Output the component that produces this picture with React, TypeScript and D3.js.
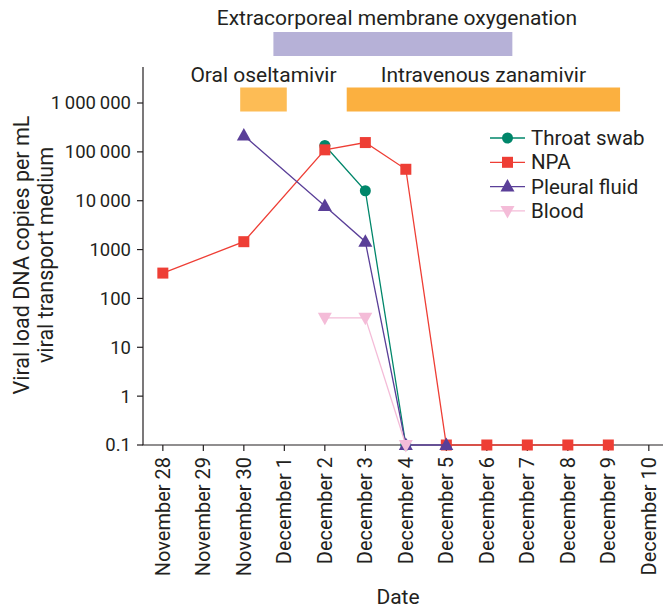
import React from "react";
import * as d3 from "d3";

const dates = [
  "November 28", "November 29", "November 30", "December 1", "December 2",
  "December 3", "December 4", "December 5", "December 6", "December 7",
  "December 8", "December 9", "December 10",
];

const yTickValues = [0.1, 1, 10, 100, 1000, 10000, 100000, 1000000];
const yTickLabels = ["0.1", "1", "10", "100", "1000", "10\u2009000", "100\u2009000", "1\u2009000\u2009000"];

// values indexed by day (0 = November 28); null = no sample
const throatSwab = [null, null, null, null, 135000, 16000, 0.1];
const npa = [330, null, 1450, null, 110000, 155000, 44000, 0.1, 0.1, 0.1, 0.1, 0.1];
const pleuralFluid = [null, null, 215000, null, 7800, 1450, 0.1, 0.1];
const blood = [null, null, null, null, 40, 40, 0.1];

const seriesNames = ["Throat swab", "NPA", "Pleural fluid", "Blood"];
const seriesColors = ["#00866a", "#ee3e35", "#5a3f98", "#f4bcd8"];
const seriesShapes = ["circle", "square", "triangleUp", "triangleDown"];

const treatmentNames = ["Extracorporeal membrane oxygenation", "Oral oseltamivir", "Intravenous zanamivir"];
const treatmentStart = [2.73, 1.91, 4.54];
const treatmentEnd = [8.63, 3.06, 11.29];
const treatmentColors = ["#b6b1d7", "#fdbc55", "#fbb040"];

const FONT = "Roboto, 'DejaVu Sans', sans-serif";
const INK = "#231f20";

function Marker({ shape, x, y, color }: { shape: string; x: number; y: number; color: string }) {
  if (shape === "circle") return <circle cx={x} cy={y} r={5.5} fill={color} />;
  if (shape === "square") return <rect x={x - 5.5} y={y - 5.5} width={11} height={11} fill={color} />;
  if (shape === "triangleUp")
    return <path d={`M${x},${y - 7.5}L${x + 7},${y + 5}L${x - 7},${y + 5}Z`} fill={color} />;
  return <path d={`M${x},${y + 7.5}L${x + 7},${y - 5}L${x - 7},${y - 5}Z`} fill={color} />;
}

export default function App() {
  const width = 663;
  const height = 612;
  const x = d3.scaleLinear().domain([-0.49, 12.35]).range([143, 663]);
  const y = d3.scaleLog().domain([0.1, 1e6]).range([445, 103]);
  const yTop = 67;
  const allSeries = [throatSwab, npa, pleuralFluid, blood];

  const line = d3
    .line<[number, number]>()
    .x((d) => x(d[0]))
    .y((d) => y(d[1]));

  const treatmentRows = [0, 1, 1];
  const rowY = [32, 87.5];
  const barH = 24;
  const labelY = [24.5, 82];
  const labelDx = [4, 0, 0];

  return (
    <svg
      width={width}
      height={height}
      style={{ position: "absolute", left: 0, top: 0, background: "#fff" }}
      fontFamily={FONT}
    >
      {/* treatments */}
      {treatmentNames.map((name, i) => {
        const x0 = x(treatmentStart[i]);
        const x1 = x(treatmentEnd[i]);
        const r = treatmentRows[i];
        return (
          <g key={name}>
            <rect x={x0} y={rowY[r]} width={x1 - x0} height={barH} fill={treatmentColors[i]} />
            <text
              x={(x0 + x1) / 2 + labelDx[i]}
              y={labelY[r]}
              textAnchor="middle"
              fontSize={21}
              fill={INK}
            >
              {name}
            </text>
          </g>
        );
      })}

      {/* axes */}
      <line x1={143} x2={143} y1={yTop} y2={445} stroke={INK} strokeWidth={1.2} />
      <line x1={142.4} x2={663} y1={445} y2={445} stroke={INK} strokeWidth={1.2} />
      {yTickValues.map((v, i) => (
        <g key={v} transform={`translate(0,${y(v)})`}>
          <line x1={137} x2={143} stroke={INK} strokeWidth={1.2} />
          <text x={131} dy="0.35em" textAnchor="end" fontSize={18.5} fill={INK}>
            {yTickLabels[i]}
          </text>
        </g>
      ))}
      {dates.map((d, i) => (
        <g key={d} transform={`translate(${x(i)},445)`}>
          <line y1={0} y2={6} stroke={INK} strokeWidth={1.2} />
          <text
            transform="rotate(-90)"
            x={-12}
            dy="0.35em"
            textAnchor="end"
            fontSize={20}
            fill={INK}
          >
            {d}
          </text>
        </g>
      ))}
      <text x={398} y={604} textAnchor="middle" fontSize={21} fill={INK}>
        Date
      </text>
      <g transform="translate(29,255) rotate(-90)">
        <text textAnchor="middle" y={0} fontSize={21.5} fill={INK}>
          Viral load DNA copies per mL
        </text>
        <text textAnchor="middle" y={23.5} fontSize={21.5} fill={INK}>
          viral transport medium
        </text>
      </g>

      {/* series */}
      {allSeries.map((vals, s) => {
        const pts = vals
          .map((v, i) => (v == null ? null : ([i, v] as [number, number])))
          .filter((p): p is [number, number] => p !== null);
        return (
          <g key={seriesNames[s]}>
            <path d={line(pts) || ""} fill="none" stroke={seriesColors[s]} strokeWidth={1.3} />
            {pts.map((p) => (
              <Marker key={p[0]} shape={seriesShapes[s]} x={x(p[0])} y={y(p[1])} color={seriesColors[s]} />
            ))}
          </g>
        );
      })}

      {/* legend */}
      {seriesNames.map((name, i) => {
        const ly = 138 + i * 24.3;
        return (
          <g key={name} transform={`translate(0,${ly})`}>
            <line x1={490} x2={525} stroke={seriesColors[i]} strokeWidth={1.3} />
            <Marker shape={seriesShapes[i]} x={507.5} y={0} color={seriesColors[i]} />
            <text x={531} dy="0.35em" fontSize={20.5} fill={INK}>
              {name}
            </text>
          </g>
        );
      })}
    </svg>
  );
}
